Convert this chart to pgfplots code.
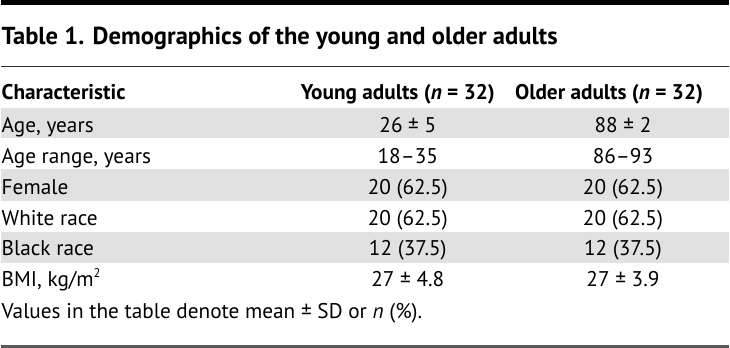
\documentclass[border=0pt]{standalone}
\usepackage{pgfplots}
\pgfplotsset{compat=1.18}
\usepackage{fontspec}
\setmainfont{PT Sans}
\definecolor{rowgray}{HTML}{E1E1E1}
\definecolor{rulegray}{HTML}{5A5A5A}
\newcommand{\bodyfont}{\fontsize{16}{19}\selectfont}
\newcommand{\headfont}{\fontsize{16}{19}\selectfont\bfseries}
\begin{document}
\begin{tikzpicture}
\begin{axis}[
  scale only axis, width=547.5pt, height=342pt,
  xmin=0, xmax=730, ymin=0, ymax=456, y dir=reverse,
  axis lines=none, ticks=none, clip=false
]
% shaded rows
\addplot[fill=rowgray, draw=none] coordinates {(0,108) (730,108) (730,139) (0,139)} --cycle;
\addplot[fill=rowgray, draw=none] coordinates {(0,170) (730,170) (730,202) (0,202)} --cycle;
\addplot[fill=rowgray, draw=none] coordinates {(0,233) (730,233) (730,264) (0,264)} --cycle;
% rules
\addplot[fill=black, draw=none] coordinates {(0,0) (730,0) (730,5) (0,5)} --cycle;
\addplot[draw=black!80, line width=0.9pt] coordinates {(0,67) (730,67)};
\addplot[draw=rulegray, line width=2.2pt] coordinates {(0,347.5) (730,347.5)};
% title
\node[anchor=base west, inner sep=0pt, font=\fontsize{18.5}{22}\selectfont\bfseries] at (axis cs:0,45) {Table 1. Demographics of the young and older adults};
% header
\node[anchor=base west, inner sep=0pt, font=\headfont] at (axis cs:0,100) {Characteristic};
\node[anchor=base, inner sep=0pt, font=\headfont] at (axis cs:398,100) {Young adults (\textit{n} = 32)};
\node[anchor=base, inner sep=0pt, font=\headfont] at (axis cs:610,100) {Older adults (\textit{n} = 32)};
% rows
\node[anchor=base west, inner sep=0pt, font=\bodyfont] at (axis cs:0,133) {Age, years};
\node[anchor=base, inner sep=0pt, font=\bodyfont] at (axis cs:408,133) {26 ± 5};
\node[anchor=base, inner sep=0pt, font=\bodyfont] at (axis cs:624,133) {88 ± 2};
\node[anchor=base west, inner sep=0pt, font=\bodyfont] at (axis cs:0,164) {Age range, years};
\node[anchor=base, inner sep=0pt, font=\bodyfont] at (axis cs:408,164) {18–35};
\node[anchor=base, inner sep=0pt, font=\bodyfont] at (axis cs:624,164) {86–93};
\node[anchor=base west, inner sep=0pt, font=\bodyfont] at (axis cs:0,195) {Female};
\node[anchor=base, inner sep=0pt, font=\bodyfont] at (axis cs:408,195) {20 (62.5)};
\node[anchor=base, inner sep=0pt, font=\bodyfont] at (axis cs:624,195) {20 (62.5)};
\node[anchor=base west, inner sep=0pt, font=\bodyfont] at (axis cs:0,226) {White race};
\node[anchor=base, inner sep=0pt, font=\bodyfont] at (axis cs:408,226) {20 (62.5)};
\node[anchor=base, inner sep=0pt, font=\bodyfont] at (axis cs:624,226) {20 (62.5)};
\node[anchor=base west, inner sep=0pt, font=\bodyfont] at (axis cs:0,257) {Black race};
\node[anchor=base, inner sep=0pt, font=\bodyfont] at (axis cs:408,257) {12 (37.5)};
\node[anchor=base, inner sep=0pt, font=\bodyfont] at (axis cs:624,257) {12 (37.5)};
\node[anchor=base west, inner sep=0pt, font=\bodyfont] at (axis cs:0,288) {BMI, kg/m\raisebox{0.9ex}{\fontsize{9.5}{11}\selectfont 2}};
\node[anchor=base, inner sep=0pt, font=\bodyfont] at (axis cs:408,288) {27 ± 4.8};
\node[anchor=base, inner sep=0pt, font=\bodyfont] at (axis cs:624,288) {27 ± 3.9};
% footnote
\node[anchor=base west, inner sep=0pt, font=\bodyfont] at (axis cs:0,320) {Values in the table denote mean ± SD or \textit{n} (\%).};
\end{axis}
\end{tikzpicture}
\end{document}
